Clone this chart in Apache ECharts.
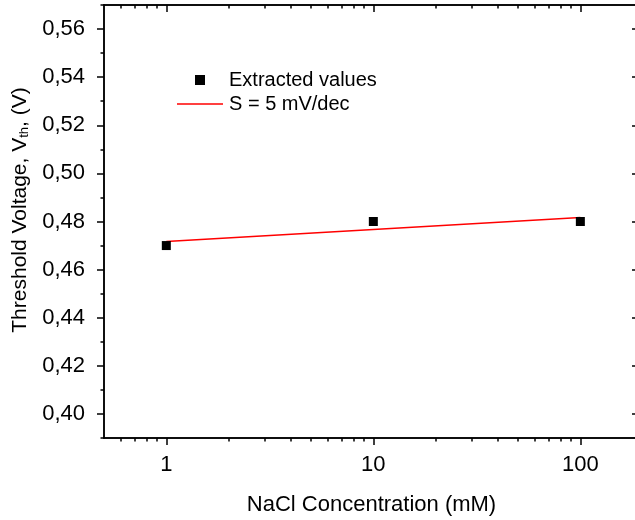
<!DOCTYPE html>
<html><head><meta charset="utf-8">
<script src="https://cdn.jsdelivr.net/npm/echarts@6/dist/echarts.min.js"></script>
<style>html,body{margin:0;padding:0;background:#fff}#c{width:635px;height:520px}</style>
</head><body><div id="c"></div>
<script>
// Data (NaCl concentration in mM, threshold voltage in V)
const concentrations = [1, 10, 100];
const thresholdV = [0.47, 0.48, 0.48];
// Linear fit (S = 5 mV/dec), endpoints
const fitConc = [1, 100];
const fitV = [0.4717, 0.4817];
// Axis ticks
const xRange = [0.5, 192];
const xTickValues = [1, 10, 100];
const xTickLabels = ['1', '10', '100'];
const xMinorValues = [0.6, 0.7, 0.8, 0.9, 2, 3, 4, 5, 6, 7, 8, 9, 20, 30, 40, 50, 60, 70, 80, 90];
const yRange = [0.39, 0.57];
const yTickValues = [0.40, 0.42, 0.44, 0.46, 0.48, 0.50, 0.52, 0.54, 0.56];
const yTickLabels = ['0,40', '0,42', '0,44', '0,46', '0,48', '0,50', '0,52', '0,54', '0,56'];
const yMinorValues = [0.39, 0.41, 0.43, 0.45, 0.47, 0.49, 0.51, 0.53, 0.55, 0.57];

const FONT = 'Liberation Sans, Arial, sans-serif';
const lg = v => Math.log10(v);
const xMin = lg(xRange[0]), xMax = lg(xRange[1]);
const xMajors = xTickValues.map(lg);
const xMinors = xMinorValues.map(lg);
const lineStyle = { color: '#000', width: 1.5 };

function xAxisDef(gridIndex, position, ticks, len, inside, labels) {
  return {
    type: 'value', gridIndex, position, min: xMin, max: xMax,
    axisLine: { show: true, onZero: false, lineStyle },
    axisTick: { show: true, inside, length: len, customValues: ticks, lineStyle: { color: '#000', width: 1.5 } },
    axisLabel: labels ? {
      show: true, customValues: xMajors, margin: 16, color: '#000', fontSize: 22, fontFamily: FONT,
      formatter: v => { const i = xMajors.findIndex(t => Math.abs(t - v) < 1e-6); return i >= 0 ? xTickLabels[i] : ''; }
    } : { show: false },
    splitLine: { show: false }
  };
}
function yAxisDef(gridIndex, position, ticks, len, inside, labels) {
  return {
    type: 'value', gridIndex, position, min: yRange[0], max: yRange[1],
    axisLine: { show: true, onZero: false, lineStyle },
    axisTick: { show: true, inside, length: len, customValues: ticks, lineStyle: { color: '#000', width: 1.5 } },
    axisLabel: labels ? {
      show: true, customValues: yTickValues, margin: 19, color: '#000', fontSize: 22, fontFamily: FONT,
      formatter: v => { const i = yTickValues.findIndex(t => Math.abs(t - v) < 1e-6); return i >= 0 ? yTickLabels[i] : ''; }
    } : { show: false },
    splitLine: { show: false }
  };
}

const xMain = xAxisDef(0, 'bottom', xMajors, 7, false, true);
xMain.name = 'NaCl Concentration (mM)';
xMain.nameLocation = 'middle';
xMain.nameGap = 56;
xMain.nameTextStyle = { color: '#000', fontSize: 22, fontFamily: FONT };

const yMain = yAxisDef(0, 'left', yTickValues, 7, false, true);
yMain.name = 'Threshold Voltage, V{sub|th}, (V)';
yMain.nameLocation = 'middle';
yMain.nameGap = 70;
yMain.nameTextStyle = {
  color: '#000', fontSize: 21, fontFamily: FONT, padding: [0, 0, 0, 23],
  rich: { sub: { fontSize: 13, fontFamily: FONT, color: '#000', padding: [9, 0, 0, 0] } }
};

const gridRect = { left: 104, top: 5, width: 535, height: 433, outerBoundsMode: 'none', containLabel: false };

const chart = echarts.init(document.getElementById('c'));
chart.setOption({
  backgroundColor: '#fff',
  animation: false,
  textStyle: { fontFamily: FONT },
  grid: [Object.assign({}, gridRect), Object.assign({}, gridRect)],
  xAxis: [
    xMain,
    xAxisDef(0, 'top', xMajors, 7, true, false),
    xAxisDef(1, 'bottom', xMinors, 3.5, false, false),
    xAxisDef(1, 'top', xMinors, 3.5, true, false)
  ],
  yAxis: [
    yMain,
    yAxisDef(0, 'right', yTickValues, 7, true, false),
    yAxisDef(1, 'left', yMinorValues, 3.5, false, false),
    yAxisDef(1, 'right', yMinorValues, 3.5, true, false)
  ],
  legend: {
    orient: 'vertical', left: 177, top: 70, padding: 0, itemWidth: 46, itemHeight: 10, itemGap: 4,
    symbolKeepAspect: true,
    textStyle: { color: '#000', fontSize: 20, fontFamily: FONT, padding: [0, 0, 0, 1] },
    data: [
      { name: 'Extracted values', icon: 'path://M0,0H10V10H0Z', itemStyle: { color: '#000', opacity: 1 } },
      { name: 'S = 5 mV/dec', icon: 'path://M0,0H46V1.5H0Z', itemStyle: { color: '#ff0000', opacity: 1 } }
    ]
  },
  series: [
    {
      name: 'S = 5 mV/dec', type: 'line', xAxisIndex: 0, yAxisIndex: 0,
      data: fitConc.map((c, i) => [lg(c), fitV[i]]),
      symbol: 'none', lineStyle: { color: '#ff0000', width: 1.5 }, itemStyle: { color: '#ff0000' }, z: 2
    },
    {
      name: 'Extracted values', type: 'scatter', xAxisIndex: 0, yAxisIndex: 0,
      data: concentrations.map((c, i) => [lg(c), thresholdV[i]]),
      symbol: 'rect', symbolSize: 9, itemStyle: { color: '#000', opacity: 1 }, z: 3
    }
  ]
});
</script></body></html>
